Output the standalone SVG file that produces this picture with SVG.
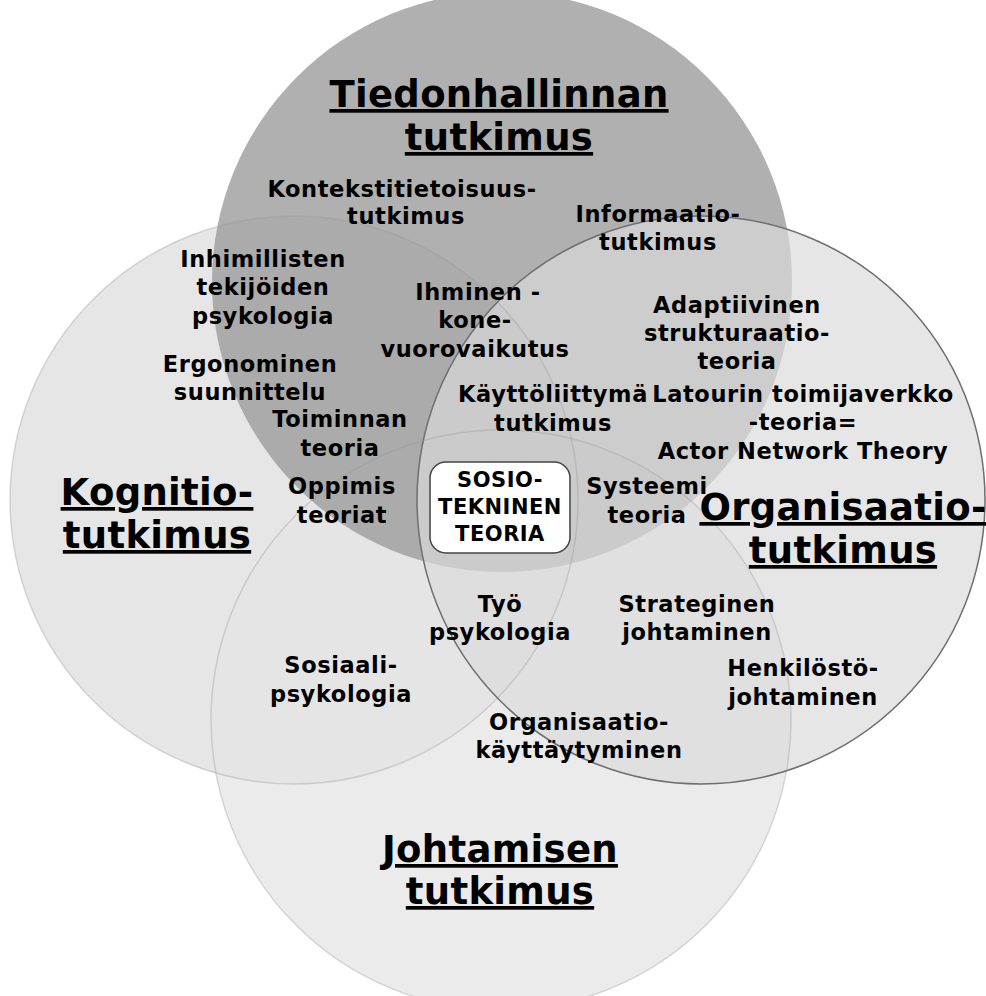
<svg xmlns="http://www.w3.org/2000/svg" width="986" height="996" viewBox="0 0 986 996">
<style>
text{font-family:"DejaVu Sans",Verdana,sans-serif;font-weight:bold;fill:#000;text-anchor:middle}
.s{font-size:22.5px;letter-spacing:0.6px}
.h{font-size:37px;letter-spacing:0.3px;text-decoration:underline}
.b{font-size:21px;letter-spacing:0.5px}
.edge{fill:none;stroke:#999;stroke-opacity:0.35;stroke-width:1.5}
</style>
<rect width="986" height="996" fill="#fff"/>
<g id="circles">
<g id="kognitio"><circle cx="294" cy="500" r="284" fill="#e6e6e6"/></g>
<g id="johtaminen"><circle cx="501" cy="720" r="290" fill="#e4e4e4" fill-opacity="0.75"/></g>
<g id="tiedonhallinta"><circle cx="502" cy="282" r="290" fill="#9c9c9c" fill-opacity="0.8"/></g>
<g id="organisaatio"><circle cx="701" cy="500" r="284" fill="#dadada" fill-opacity="0.68" stroke="#6e6e6e" stroke-width="1.5"/></g>
<circle class="edge" cx="294" cy="500" r="284"/>
<circle class="edge" cx="501" cy="720" r="290"/>
</g>
<g id="headings">
<text class="h" x="499" y="107">Tiedonhallinnan</text>
<text class="h" x="499" y="150">tutkimus</text>
<text class="h" x="157" y="505">Kognitio-</text>
<text class="h" x="157" y="548">tutkimus</text>
<text class="h" x="843" y="520">Organisaatio-</text>
<text class="h" x="843" y="563">tutkimus</text>
<text class="h" x="500" y="862">Johtamisen</text>
<text class="h" x="500" y="904">tutkimus</text>
</g>
<g id="labels">
<text class="s" x="402" y="197">Kontekstitietoisuus-</text>
<text class="s" x="406" y="224">tutkimus</text>
<text class="s" x="658" y="222">Informaatio-</text>
<text class="s" x="658" y="250">tutkimus</text>
<text class="s" x="263" y="267">Inhimillisten</text>
<text class="s" x="263" y="295">tekijöiden</text>
<text class="s" x="263" y="324">psykologia</text>
<text class="s" x="478" y="300">Ihminen -</text>
<text class="s" x="475" y="328">kone-</text>
<text class="s" x="475" y="357">vuorovaikutus</text>
<text class="s" x="737" y="313">Adaptiivinen</text>
<text class="s" x="737" y="341">strukturaatio-</text>
<text class="s" x="737" y="369">teoria</text>
<text class="s" x="250" y="372">Ergonominen</text>
<text class="s" x="250" y="400">suunnittelu</text>
<text class="s" x="553" y="402">Käyttöliittymä</text>
<text class="s" x="553" y="431">tutkimus</text>
<text class="s" x="803" y="402">Latourin toimijaverkko</text>
<text class="s" x="803" y="430">-teoria=</text>
<text class="s" x="803" y="459">Actor Network Theory</text>
<text class="s" x="340" y="427">Toiminnan</text>
<text class="s" x="340" y="456">teoria</text>
<text class="s" x="342" y="494">Oppimis</text>
<text class="s" x="342" y="523">teoriat</text>
<text class="s" x="647" y="494">Systeemi</text>
<text class="s" x="647" y="523">teoria</text>
<text class="s" x="500" y="612">Työ</text>
<text class="s" x="500" y="640">psykologia</text>
<text class="s" x="697" y="612">Strateginen</text>
<text class="s" x="697" y="640">johtaminen</text>
<text class="s" x="803" y="676">Henkilöstö-</text>
<text class="s" x="803" y="705">johtaminen</text>
<text class="s" x="341" y="673">Sosiaali-</text>
<text class="s" x="341" y="702">psykologia</text>
<text class="s" x="579" y="730">Organisaatio-</text>
<text class="s" x="579" y="758">käyttäytyminen</text>
</g>
<g id="sosiotekninen">
<rect x="430" y="462" width="140" height="91" rx="16" fill="#fff" stroke="#444" stroke-width="1.5"/>
<text class="b" x="500" y="487">SOSIO-</text>
<text class="b" x="500" y="514">TEKNINEN</text>
<text class="b" x="500" y="541">TEORIA</text>
</g>
</svg>
